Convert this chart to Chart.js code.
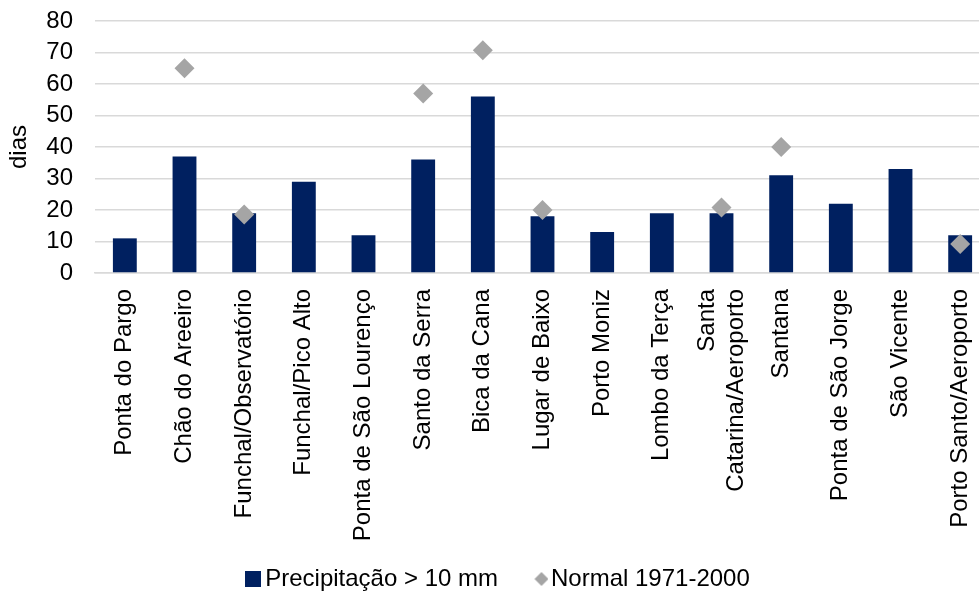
<!DOCTYPE html>
<html>
<head>
<meta charset="utf-8">
<script src="https://cdn.jsdelivr.net/npm/chart.js@4"></script>
<style>
  html, body { margin: 0; padding: 0; background: #fff; overflow: hidden; }
  /* the original plot runs a little past the right edge of the picture */
  #wrap { width: 1000px; height: 594px; position: relative; }
</style>
</head>
<body>
<div id="wrap"><canvas id="chart"></canvas></div>
<script>
const stations = [
  'Ponta do Pargo', 'Chão do Areeiro', 'Funchal/Observatório', 'Funchal/Pico Alto',
  'Ponta de São Lourenço', 'Santo da Serra', 'Bica da Cana', 'Lugar de Baixo',
  'Porto Moniz', 'Lombo da Terça', ['Santa', 'Catarina/Aeroporto'], 'Santana',
  'Ponta de São Jorge', 'São Vicente', 'Porto Santo/Aeroporto'
];
const diasPrecip = [11, 37, 19, 29, 12, 36, 56, 18, 13, 19, 19, 31, 22, 33, 12];
const diasNormal = [null, 65, 18.6, null, null, 57, 70.7, 20, null, null, 20.8, 40, null, null, 9.2];
const yTicks = [0, 80, 10];

const FONT = 'Arial, "Liberation Sans", sans-serif';
const TEXT_SIZE = 24;
const LEGEND_SHIFT = -1;

// legend symbols drawn on small canvases so the gap to the text stays tight
function legendSquare(size, color) {
  const c = document.createElement('canvas');
  c.width = size; c.height = size;
  const g = c.getContext('2d');
  g.fillStyle = color;
  g.fillRect(0, 0, size, size);
  return c;
}
function legendDiamond(size, pad, color) {
  // diamond sits on the right of a wider canvas, closer to its text
  const c = document.createElement('canvas');
  c.width = size + pad; c.height = size;
  const g = c.getContext('2d');
  g.fillStyle = color;
  g.beginPath();
  g.moveTo(pad + size / 2, 0);
  g.lineTo(pad + size, size / 2);
  g.lineTo(pad + size / 2, size);
  g.lineTo(pad, size / 2);
  g.closePath();
  g.fill();
  return c;
}

const tweaks = {
  id: 'tweaks',
  afterLayout(chart) {
    chart.legend.left -= LEGEND_SHIFT;
    chart.legend.right -= LEGEND_SHIFT;
  },
  // two-line rotated label: centre both lines on the tick, like the original
  beforeDraw(chart) {
    const lh = TEXT_SIZE * 1.2;
    chart.scales.x.getLabelItems().forEach((it, i) => {
      if (Array.isArray(stations[i]) && !it._centred) {
        it.options.translation[0] -= (stations[i].length - 1) * lh / 2;
        it._centred = true;
      }
    });
  }
};

new Chart(document.getElementById('chart'), {
  type: 'bar',
  data: {
    labels: stations,
    datasets: [
      {
        label: 'Precipitação > 10 mm',
        data: diasPrecip,
        backgroundColor: '#002060',
        borderWidth: 0,
        barPercentage: 0.4,
        categoryPercentage: 1,
        order: 1
      },
      {
        label: 'Normal 1971-2000',
        data: diasNormal,
        type: 'line',
        showLine: false,
        pointStyle: 'rectRot',
        pointRadius: 10,
        pointHoverRadius: 10,
        pointBackgroundColor: '#a5a5a5',
        pointBorderWidth: 0,
        backgroundColor: '#a5a5a5',
        borderColor: '#a5a5a5',
        order: 0
      }
    ]
  },
  plugins: [tweaks],
  options: {
    responsive: true,
    maintainAspectRatio: false,
    animation: false,
    layout: { padding: { top: 21, left: 0, right: 0, bottom: -7 } },
    plugins: {
      tooltip: { enabled: false },
      legend: {
        position: 'bottom',
        labels: {
          color: '#000',
          font: { size: TEXT_SIZE, family: FONT },
          usePointStyle: true,
          boxWidth: 1,
          boxHeight: 14,
          padding: 20,
          sort: (a, b) => a.datasetIndex - b.datasetIndex,
          generateLabels: chart => {
            const items = Chart.defaults.plugins.legend.labels.generateLabels(chart);
            items.forEach(it => {
              if (it.datasetIndex === 0) {
                it.pointStyle = legendSquare(16, '#002060');
                it.text += '\u2002\u2004';
              } else {
                it.pointStyle = legendDiamond(14, 6, '#a5a5a5');
              }
            });
            return items;
          }
        }
      }
    },
    scales: {
      x: {
        afterFit: s => { s.height = 274; s.paddingLeft = 0; s.paddingRight = 0; },
        grid: { display: false, drawTicks: false },
        border: { color: '#d9d9d9', width: 1.5 },
        ticks: {
          color: '#000',
          font: { size: TEXT_SIZE, family: FONT },
          minRotation: 90,
          maxRotation: 90,
          autoSkip: false,
          padding: 16
        }
      },
      y: {
        min: yTicks[0],
        max: yTicks[1],
        afterFit: s => { s.width = 95; s.paddingTop = 0; s.paddingBottom = 0; },
        grid: { color: '#d9d9d9', lineWidth: 1.5, drawTicks: false },
        border: { display: false },
        ticks: {
          stepSize: yTicks[2],
          autoSkip: false,
          color: '#000',
          font: { size: TEXT_SIZE, family: FONT },
          padding: 22
        },
        title: {
          display: true,
          text: 'dias',
          color: '#000',
          font: { size: TEXT_SIZE, family: FONT },
          padding: { top: 5, bottom: 15 }
        }
      }
    }
  }
});
</script>
</body>
</html>
